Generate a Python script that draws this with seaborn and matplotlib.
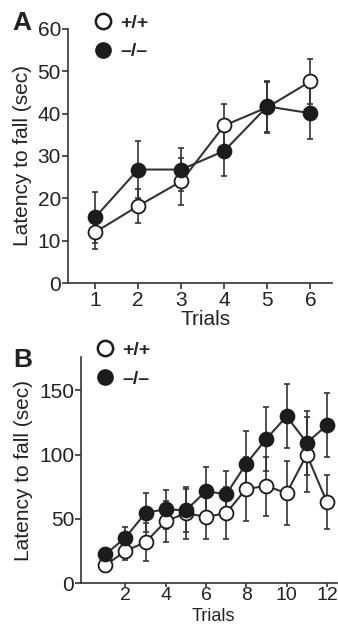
import numpy as np
import pandas as pd
import matplotlib
matplotlib.use("Agg")
import matplotlib.pyplot as plt
import seaborn as sns
from matplotlib.lines import Line2D

# Panel A data (trials 1-6)
trials_a = [1, 2, 3, 4, 5, 6]
wt_a = [12, 18.2, 24, 37.2, 41.5, 47.6]
wt_a_err = [4, 4, 5.5, 5, 6, 5.3]
ko_a = [15.5, 26.8, 26.8, 31.2, 41.7, 40.1]
ko_a_err = [6, 6.7, 5, 6, 6, 6]

# Panel B data (trials 1-12)
trials_b = [1, 2, 3, 4, 5, 6, 7, 8, 9, 10, 11, 12]
wt_b = [13.8, 24.9, 31.9, 48, 54.5, 51.4, 54.5, 73.4, 75.5, 70, 100, 63]
wt_b_err = [4, 7, 15, 16, 20, 17, 20, 25, 23, 25, 29, 21]
ko_b = [22.3, 35.3, 54.8, 57.4, 56.6, 71.6, 69, 93, 112.4, 129.8, 109.3, 122.8]
ko_b_err = [5, 8, 15, 15, 17, 19, 18, 25, 25, 25, 25, 25]

genotypes = ["+/+", "\u2013/\u2013"]

sns.set_style("ticks")
plt.rcParams["font.family"] = ["Liberation Sans", "DejaVu Sans"]

fig = plt.figure(figsize=(3.38, 6.29), dpi=100)
ax_a = fig.add_axes([0.201, 0.550, 0.781, 0.404])
ax_b = fig.add_axes([0.240, 0.0731, 0.757, 0.3593])

dark = "#1c1c1c"
line_c = "#333333"
txt_c = "#222222"
fs = 15


def draw_panel(ax, x, wt, wt_err, ko, ko_err):
    df = pd.DataFrame({
        "Trials": list(x) * 2,
        "Latency": list(wt) + list(ko),
        "Genotype": [genotypes[0]] * len(x) + [genotypes[1]] * len(x),
    })
    # error bars first
    ax.errorbar(x, wt, yerr=wt_err, fmt="none", ecolor=line_c, elinewidth=1.2,
                capsize=2, capthick=1.2, zorder=1)
    ax.errorbar(x, ko, yerr=ko_err, fmt="none", ecolor=line_c, elinewidth=1.2,
                capsize=2, capthick=1.2, zorder=1)
    sub = df[df["Genotype"] == genotypes[0]]
    sns.lineplot(data=sub, x="Trials", y="Latency", ax=ax, color=line_c, lw=1.5,
                 marker="o", markersize=10, markerfacecolor="white",
                 markeredgecolor=dark, markeredgewidth=1.3, zorder=2, legend=False)
    sub = df[df["Genotype"] == genotypes[1]]
    sns.lineplot(data=sub, x="Trials", y="Latency", ax=ax, color=line_c, lw=1.5,
                 marker="o", markersize=10, markerfacecolor=dark,
                 markeredgecolor=dark, markeredgewidth=1.3, zorder=3, legend=False)
    sns.despine(ax=ax)
    for s in ["left", "bottom"]:
        ax.spines[s].set_linewidth(1.2)
        ax.spines[s].set_color(line_c)
    ax.tick_params(axis="both", labelsize=fs, length=4, width=1.2, color=line_c,
                   labelcolor=txt_c)
    ax.tick_params(axis="x", pad=2)
    ax.tick_params(axis="y", pad=1)
    ax.set_xlabel("Trials", fontsize=fs, color=txt_c)
    ax.set_ylabel("Latency to fall (sec)", fontsize=fs, color=txt_c)
    handles = [
        Line2D([], [], ls="none", marker="o", markersize=11, markerfacecolor="white",
               markeredgecolor=dark, markeredgewidth=1.8),
        Line2D([], [], ls="none", marker="o", markersize=11, markerfacecolor=dark,
               markeredgecolor=dark),
    ]
    ax.legend(handles, genotypes, loc="upper left", frameon=False,
              prop={"size": 14, "weight": "bold"},
              handlelength=0.8, handletextpad=0.5, borderaxespad=0, borderpad=0,
              labelspacing=0.58)


draw_panel(ax_a, trials_a, wt_a, wt_a_err, ko_a, ko_a_err)
ax_a.set_xlim(0.37, 6.5)
ax_a.set_ylim(0, 60)
ax_a.set_xticks(trials_a)
ax_a.set_yticks([0, 10, 20, 30, 40, 50, 60])
ax_a.yaxis.set_label_coords(-0.136, 0.5)
ax_a.xaxis.set_label_coords(0.52, -0.106)
ax_a.get_legend().set_bbox_to_anchor((0.103, 1.059))

draw_panel(ax_b, trials_b, wt_b, wt_b_err, ko_b, ko_b_err)
ax_b.set_xlim(-0.2, 12.5)
ax_b.set_ylim(0, 176)
ax_b.set_xticks([2, 4, 6, 8, 10, 12])
ax_b.set_yticks([0, 50, 100, 150])
ax_b.tick_params(axis="x", labelsize=14, length=3, pad=0)
ax_b.yaxis.set_label_coords(-0.19, 0.5)
ax_b.xaxis.set_label_coords(0.516, -0.111)
ax_b.xaxis.label.set_fontsize(13)
ax_b.get_legend().set_bbox_to_anchor((0.063, 1.07))

fig.text(0.065, 0.963, "A", fontsize=19, fontweight="bold", va="center", ha="center",
         color=txt_c)
fig.text(0.068, 0.428, "B", fontsize=19, fontweight="bold", va="center", ha="center",
         color=txt_c)

fig.savefig("out.png", dpi=100)
